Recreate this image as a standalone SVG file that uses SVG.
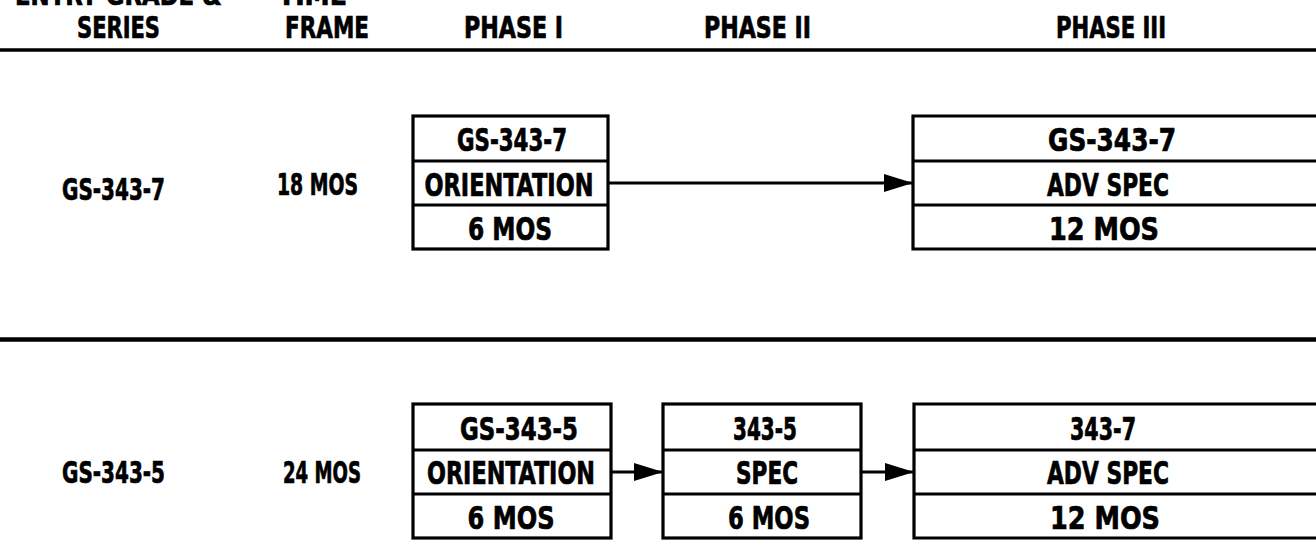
<svg xmlns="http://www.w3.org/2000/svg" width="1316" height="541" viewBox="0 0 1316 541">
<style>
  text { font-family: "DejaVu Sans Condensed", "DejaVu Sans", "Liberation Sans", sans-serif; font-stretch: condensed; font-weight: bold; fill: #000; stroke: #000; stroke-width: 0.7; }
  .h { font-size: 31px; }
  .c { font-size: 28px; }
  .b { font-size: 32px; text-anchor: middle; }
  .l { font-size: 31px; }
  .box { fill: #fff; stroke: #000; stroke-width: 3.2; }
  .rule { stroke: #000; fill: none; }
  .conn { stroke: #000; stroke-width: 3.2; fill: none; }
</style>
<defs>
  <marker id="ah" viewBox="0 0 29 18" refX="28" refY="9" markerWidth="29" markerHeight="18" markerUnits="userSpaceOnUse" orient="auto">
    <polygon points="0,0 29,9 0,18" fill="#000"/>
  </marker>
</defs>
<rect width="1316" height="541" fill="#fff"/>

<g id="header">
  <text class="c" x="15" y="5" textLength="207" lengthAdjust="spacingAndGlyphs">ENTRY GRADE &amp;</text>
  <text class="c" x="278" y="5" textLength="69" lengthAdjust="spacingAndGlyphs">TIME</text>
  <text class="h" x="77" y="38" textLength="83" lengthAdjust="spacingAndGlyphs">SERIES</text>
  <text class="h" x="285" y="38" textLength="84" lengthAdjust="spacingAndGlyphs">FRAME</text>
  <text class="h" x="464" y="38" textLength="99" lengthAdjust="spacingAndGlyphs">PHASE I</text>
  <text class="h" x="704" y="38" textLength="107" lengthAdjust="spacingAndGlyphs">PHASE II</text>
  <text class="h" x="1056" y="38" textLength="110" lengthAdjust="spacingAndGlyphs">PHASE III</text>
  <line class="rule" x1="0" y1="50" x2="1316" y2="50" stroke-width="3.5"/>
  <line class="rule" x1="0" y1="339.5" x2="1316" y2="339.5" stroke-width="4.5"/>
</g>

<g id="row1-labels">
  <text class="l" x="62" y="200" textLength="103" lengthAdjust="spacingAndGlyphs">GS-343-7</text>
  <text class="l" x="277" y="195" textLength="81" lengthAdjust="spacingAndGlyphs">18 MOS</text>
</g>

<g id="r1-phase1">
  <rect class="box" x="413" y="116" width="195" height="133"/>
  <line class="conn" x1="413" y1="161" x2="608" y2="161"/>
  <line class="conn" x1="413" y1="205" x2="608" y2="205"/>
  <text class="b" x="512" y="151" textLength="110" lengthAdjust="spacingAndGlyphs">GS-343-7</text>
  <text class="b" x="509" y="196" textLength="169" lengthAdjust="spacingAndGlyphs">ORIENTATION</text>
  <text class="b" x="510" y="240" textLength="84" lengthAdjust="spacingAndGlyphs">6 MOS</text>
</g>

<g id="r1-phase3">
  <path class="box" d="M1320,116 H913 V249 H1320"/>
  <line class="conn" x1="913" y1="161" x2="1320" y2="161"/>
  <line class="conn" x1="913" y1="205" x2="1320" y2="205"/>
  <text class="b" x="1112" y="151" textLength="128" lengthAdjust="spacingAndGlyphs">GS-343-7</text>
  <text class="b" x="1108" y="196" textLength="122" lengthAdjust="spacingAndGlyphs">ADV SPEC</text>
  <text class="b" x="1104" y="240" textLength="110" lengthAdjust="spacingAndGlyphs">12 MOS</text>
</g>

<g id="row2-labels">
  <text class="l" x="62" y="483" textLength="103" lengthAdjust="spacingAndGlyphs">GS-343-5</text>
  <text class="l" x="283" y="483" textLength="78" lengthAdjust="spacingAndGlyphs">24 MOS</text>
</g>

<g id="r2-phase1">
  <rect class="box" x="413" y="404" width="198" height="134"/>
  <line class="conn" x1="413" y1="450" x2="611" y2="450"/>
  <line class="conn" x1="413" y1="494" x2="611" y2="494"/>
  <text class="b" x="519" y="440" textLength="118" lengthAdjust="spacingAndGlyphs">GS-343-5</text>
  <text class="b" x="511" y="484" textLength="168" lengthAdjust="spacingAndGlyphs">ORIENTATION</text>
  <text class="b" x="511" y="529" textLength="87" lengthAdjust="spacingAndGlyphs">6 MOS</text>
</g>

<g id="r2-phase2">
  <rect class="box" x="663" y="404" width="198" height="134"/>
  <line class="conn" x1="663" y1="450" x2="861" y2="450"/>
  <line class="conn" x1="663" y1="494" x2="861" y2="494"/>
  <text class="b" x="765" y="440" textLength="64" lengthAdjust="spacingAndGlyphs">343-5</text>
  <text class="b" x="767" y="484" textLength="62" lengthAdjust="spacingAndGlyphs">SPEC</text>
  <text class="b" x="769" y="529" textLength="82" lengthAdjust="spacingAndGlyphs">6 MOS</text>
</g>

<g id="r2-phase3">
  <path class="box" d="M1320,404 H914 V538 H1320"/>
  <line class="conn" x1="914" y1="450" x2="1320" y2="450"/>
  <line class="conn" x1="914" y1="494" x2="1320" y2="494"/>
  <text class="b" x="1103" y="440" textLength="66" lengthAdjust="spacingAndGlyphs">343-7</text>
  <text class="b" x="1108" y="484" textLength="122" lengthAdjust="spacingAndGlyphs">ADV SPEC</text>
  <text class="b" x="1105" y="529" textLength="110" lengthAdjust="spacingAndGlyphs">12 MOS</text>
</g>

<g id="connectors">
  <line class="conn" x1="608" y1="183" x2="912" y2="183" marker-end="url(#ah)"/>
  <line class="conn" x1="611" y1="472" x2="662" y2="472" marker-end="url(#ah)"/>
  <line class="conn" x1="861" y1="472" x2="913" y2="472" marker-end="url(#ah)"/>
</g>
</svg>
